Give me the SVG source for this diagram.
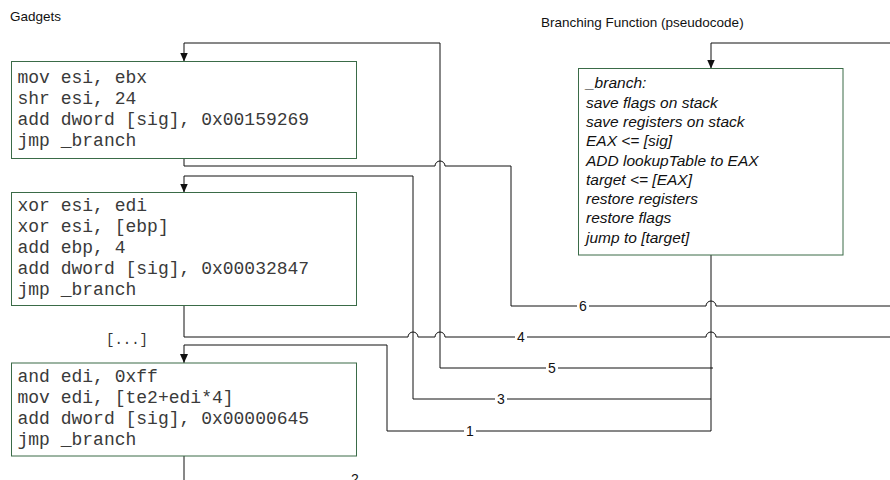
<svg xmlns="http://www.w3.org/2000/svg" width="890" height="480" viewBox="0 0 890 480">
<style>
.box{fill:#fff;stroke:#3a6b47;stroke-width:1}
.code{font-family:"Liberation Mono","Courier New",monospace;font-size:18px;fill:#3a3a3a}
.pseudo{font-family:"Liberation Sans",Arial,sans-serif;font-size:15.5px;font-style:italic;fill:#111}
.title{font-family:"Liberation Sans",Arial,sans-serif;font-size:13.5px;fill:#111}
.edge{fill:none;stroke:#111;stroke-width:1}
.lbl{font-family:"Liberation Sans",Arial,sans-serif;font-size:14px;fill:#111;text-anchor:middle}
.lblbg{fill:#fff}
</style>
<defs>
<marker id="ah" viewBox="0 0 9 8" refX="9" refY="4" markerWidth="9" markerHeight="8" markerUnits="userSpaceOnUse" orient="auto">
<path d="M0,0 L9,4 L0,8 z" fill="#111"/>
</marker>
</defs>
<rect width="890" height="480" fill="#fff"/>
<text class="title" x="10" y="21">Gadgets</text>
<text class="title" x="541" y="26.5">Branching Function (pseudocode)</text>

<g id="connectors">
<path class="edge" d="M713,368 H440 V43 H184 V61.5" marker-end="url(#ah)"/>
<path class="edge" d="M711,399 H413 V176 H184 V192.5" marker-end="url(#ah)"/>
<path class="edge" d="M711,431 H387 V345 H184 V363" marker-end="url(#ah)"/>
<path class="edge" d="M184,158.5 V166 H435 A5,5 0 0 1 445,166 H511 V306 H706 A5,5 0 0 1 716,306 H890"/>
<path class="edge" d="M184,305.5 V337 H408 A5,5 0 0 1 418,337 H435 A5,5 0 0 1 445,337 H706 A5,5 0 0 1 716,337 H890"/>
<path class="edge" d="M184,456 V480"/>
<path class="edge" d="M890,43 H711 V68.5" marker-end="url(#ah)"/>
<path class="edge" d="M711,255 V431"/>
<g id="labels">
<rect class="lblbg" x="577" y="299" width="12" height="14"/><text class="lbl" x="583" y="311">6</text>
<rect class="lblbg" x="515" y="330" width="12" height="14"/><text class="lbl" x="521" y="342">4</text>
<rect class="lblbg" x="546" y="361" width="12" height="14"/><text class="lbl" x="552" y="373">5</text>
<rect class="lblbg" x="495" y="392" width="12" height="14"/><text class="lbl" x="501" y="404">3</text>
<rect class="lblbg" x="464" y="424" width="12" height="14"/><text class="lbl" x="470" y="436">1</text>
<text class="lbl" x="355" y="484">2</text>
</g>
</g>

<g id="gadget1">
<rect class="box" x="11.5" y="61.5" width="345" height="97"/>
<text class="code" x="17.5" y="83">mov esi, ebx</text>
<text class="code" x="17.5" y="104">shr esi, 24</text>
<text class="code" x="17.5" y="125">add dword [sig], 0x00159269</text>
<text class="code" x="17.5" y="146">jmp _branch</text>
</g>

<g id="gadget2">
<rect class="box" x="11.5" y="192.5" width="345" height="113"/>
<text class="code" x="17.5" y="211">xor esi, edi</text>
<text class="code" x="17.5" y="232">xor esi, [ebp]</text>
<text class="code" x="17.5" y="253">add ebp, 4</text>
<text class="code" x="17.5" y="274">add dword [sig], 0x00032847</text>
<text class="code" x="17.5" y="295">jmp _branch</text>
</g>

<g id="ellipsis">
<text class="code" x="106" y="344" style="font-size:14px;fill:#333">[...]</text>
</g>

<g id="gadget3">
<rect class="box" x="11.5" y="363" width="345" height="93"/>
<text class="code" x="17.5" y="382">and edi, 0xff</text>
<text class="code" x="17.5" y="403">mov edi, [te2+edi*4]</text>
<text class="code" x="17.5" y="424">add dword [sig], 0x00000645</text>
<text class="code" x="17.5" y="445">jmp _branch</text>
</g>

<g id="branch">
<rect class="box" x="578.5" y="68.5" width="264.5" height="186.5"/>
<text class="pseudo" x="586" y="88.3">_branch:</text>
<text class="pseudo" x="586" y="107.6">save flags on stack</text>
<text class="pseudo" x="586" y="126.9">save registers on stack</text>
<text class="pseudo" x="586" y="146.2">EAX &lt;= [sig]</text>
<text class="pseudo" x="586" y="165.5">ADD lookupTable to EAX</text>
<text class="pseudo" x="586" y="184.8">target &lt;= [EAX]</text>
<text class="pseudo" x="586" y="204.1">restore registers</text>
<text class="pseudo" x="586" y="223.4">restore flags</text>
<text class="pseudo" x="586" y="242.7">jump to [target]</text>
</g>
</svg>
